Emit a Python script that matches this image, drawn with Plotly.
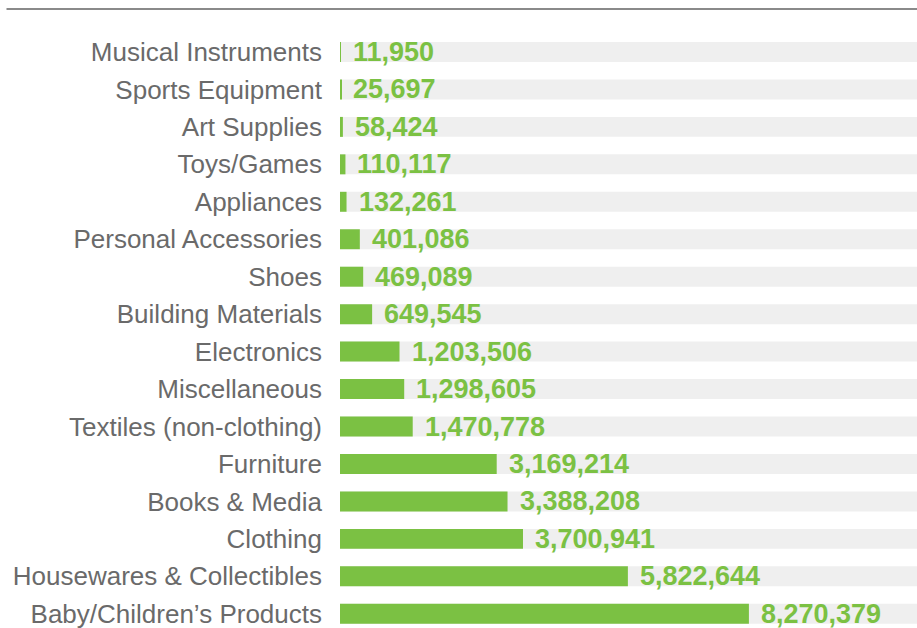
import plotly.graph_objects as go

# categories and values, top to bottom
categories = [
    "Musical Instruments", "Sports Equipment", "Art Supplies", "Toys/Games",
    "Appliances", "Personal Accessories", "Shoes", "Building Materials",
    "Electronics", "Miscellaneous", "Textiles (non-clothing)", "Furniture",
    "Books & Media", "Clothing", "Housewares & Collectibles",
    "Baby/Children\u2019s Products",
]
values = [
    11950, 25697, 58424, 110117, 132261, 401086, 469089, 649545,
    1203506, 1298605, 1470778, 3169214, 3388208, 3700941, 5822644, 8270379,
]

GREEN = "#7bc143"
x_max = 11670000  # full width of the grey track

fig = go.Figure()

# grey background tracks
fig.add_trace(go.Bar(
    y=categories, x=[x_max] * len(categories), orientation="h",
    marker=dict(color="#efefef", line=dict(width=0)),
    width=0.533, hoverinfo="skip",
))

# green value bars
fig.add_trace(go.Bar(
    y=categories, x=values, orientation="h",
    marker=dict(color=GREEN, line=dict(width=0)),
    width=0.533,
))

# value labels next to the bars
for cat, v in zip(categories, values):
    fig.add_annotation(
        x=v, y=cat, text=f"{v:,}", showarrow=False,
        xanchor="left", yanchor="middle", xshift=10,
        font=dict(family="Liberation Sans", size=27, color=GREEN, weight="bold"),
    )

# grey rule across the top
fig.add_shape(
    type="line", xref="paper", yref="paper",
    x0=-0.578, x1=1, y0=1.0403, y1=1.0403,
    line=dict(color="#8a8a8a", width=2),
)

fig.update_layout(
    width=917, height=628,
    margin=dict(l=340, r=0, t=33, b=0),
    barmode="overlay",
    showlegend=False,
    plot_bgcolor="white", paper_bgcolor="white",
    xaxis=dict(range=[0, x_max], visible=False, fixedrange=True),
    yaxis=dict(
        range=[15.38, -0.507], showgrid=False, zeroline=False, showline=False,
        ticks="", ticklabelstandoff=17,
        tickfont=dict(family="Liberation Sans", size=26, color="#6a6a6a"),
    ),
)

# page body has a default 8px margin; drop it so the figure sits at 0,0
fig.write_html(
    "out.html",
    config={"displayModeBar": False},
    post_script="document.body.style.margin='0';document.body.style.overflow='hidden';",
)
